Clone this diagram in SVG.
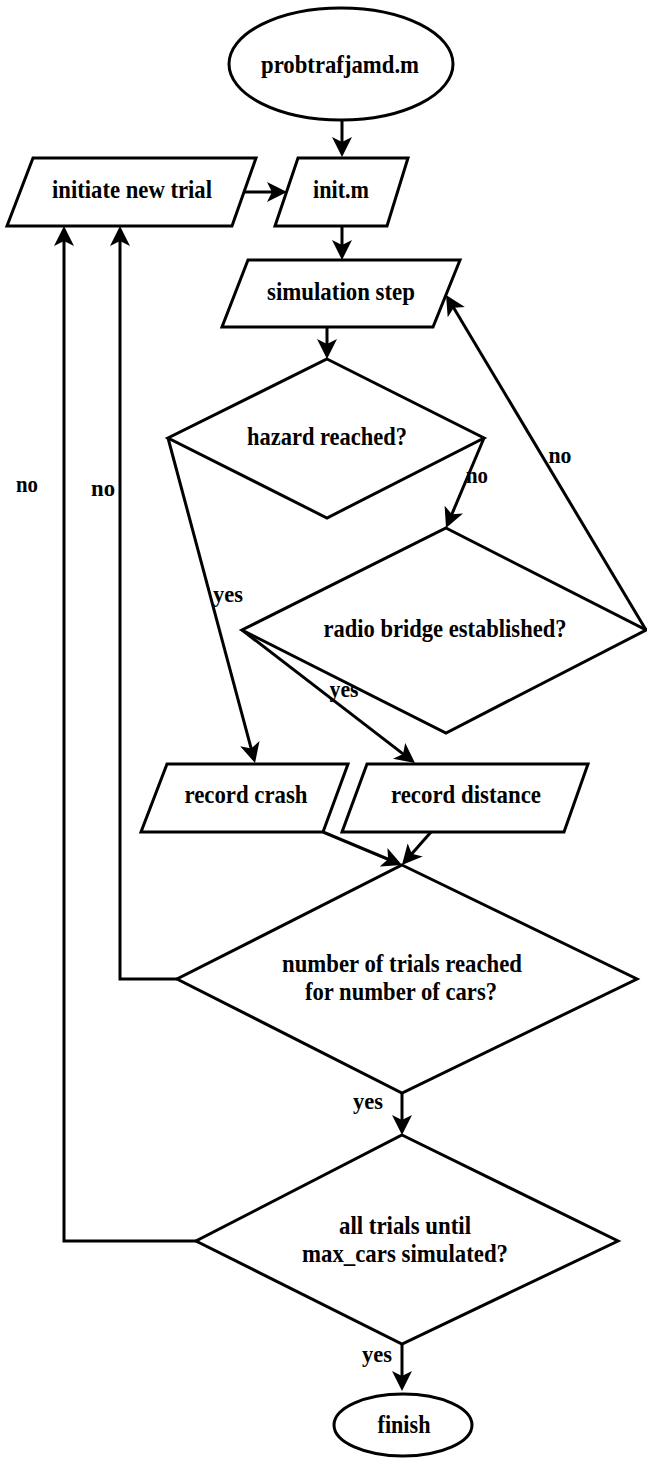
<svg xmlns="http://www.w3.org/2000/svg" width="647" height="1458" viewBox="0 0 647 1458">
  <style>
    .shape { fill: #ffffff; stroke: #000000; stroke-width: 3; stroke-linejoin: miter; }
    .edge { fill: none; stroke: #000000; stroke-width: 3; }
    .arrow { marker-end: url(#head); }
    text { font-family: "Liberation Serif", "Times New Roman", serif; font-weight: bold; fill: #000000; }
    .node-text { font-size: 25px; text-anchor: middle; }
    .label { font-size: 24px; text-anchor: middle; }
  </style>
  <defs>
    <marker id="head" viewBox="0 0 20 20" refX="16" refY="10" markerWidth="20" markerHeight="20" markerUnits="userSpaceOnUse" orient="auto">
      <path d="M0,0 L20,10 L0,20 L5,10 Z" fill="#000000"/>
    </marker>
  </defs>

  <rect x="0" y="0" width="647" height="1458" fill="#ffffff"/>

  <!-- connectors -->
  <g id="connectors">
    <line class="edge arrow" x1="342" y1="120" x2="342" y2="153"/>
    <line class="edge arrow" x1="245" y1="192" x2="283" y2="192"/>
    <line class="edge arrow" x1="342" y1="226" x2="342" y2="256"/>
    <line class="edge arrow" x1="327" y1="327" x2="327" y2="355"/>
    <line class="edge arrow" x1="484" y1="438" x2="447.6" y2="524.3"/>
    <line class="edge arrow" x1="646" y1="630" x2="448.1" y2="298.4"/>
    <line class="edge arrow" x1="168" y1="438" x2="254" y2="759.1"/>
    <line class="edge arrow" x1="242" y1="630" x2="411.8" y2="760.6"/>
    <line class="edge arrow" x1="323" y1="832" x2="398.3" y2="863.5"/>
    <line class="edge arrow" x1="431" y1="832" x2="404.6" y2="862"/>
    <polyline class="edge arrow" points="177,979 120,979 120,230"/>
    <line class="edge arrow" x1="402" y1="1093" x2="402" y2="1131"/>
    <polyline class="edge arrow" points="196,1241 64,1241 64,230"/>
    <line class="edge arrow" x1="402" y1="1344" x2="402" y2="1387"/>

    <text class="label" x="477" y="483" textLength="22" lengthAdjust="spacingAndGlyphs">no</text>
    <text class="label" x="560" y="463" textLength="23" lengthAdjust="spacingAndGlyphs">no</text>
    <text class="label" x="228" y="602" textLength="30" lengthAdjust="spacingAndGlyphs">yes</text>
    <text class="label" x="344" y="697" textLength="29" lengthAdjust="spacingAndGlyphs">yes</text>
    <text class="label" x="27" y="492" textLength="22" lengthAdjust="spacingAndGlyphs">no</text>
    <text class="label" x="103" y="496" textLength="24" lengthAdjust="spacingAndGlyphs">no</text>
    <text class="label" x="368" y="1109" textLength="30" lengthAdjust="spacingAndGlyphs">yes</text>
    <text class="label" x="377" y="1362" textLength="30" lengthAdjust="spacingAndGlyphs">yes</text>
  </g>

  <g id="start">
    <ellipse class="shape" cx="341" cy="64" rx="112" ry="56"/>
    <text class="node-text" x="340" y="73" textLength="158" lengthAdjust="spacingAndGlyphs">probtrafjamd.m</text>
  </g>

  <g id="initiate-new-trial">
    <polygon class="shape" points="33,158 256,158 232,226 7,226"/>
    <text class="node-text" x="132" y="198" textLength="160" lengthAdjust="spacingAndGlyphs">initiate new trial</text>
  </g>

  <g id="init-m">
    <polygon class="shape" points="298,158 408,158 387,226 275,226"/>
    <text class="node-text" x="341" y="198" textLength="56" lengthAdjust="spacingAndGlyphs">init.m</text>
  </g>

  <g id="simulation-step">
    <polygon class="shape" points="248,260 460,260 433,327 222,327"/>
    <text class="node-text" x="341" y="300" textLength="148" lengthAdjust="spacingAndGlyphs">simulation step</text>
  </g>

  <g id="hazard-reached">
    <polygon class="shape" points="327,359 484,438 327,518 168,438"/>
    <text class="node-text" x="327" y="445" textLength="160" lengthAdjust="spacingAndGlyphs">hazard reached?</text>
  </g>

  <g id="radio-bridge">
    <polygon class="shape" points="446,528 646,630 446,733 242,630"/>
    <text class="node-text" x="445" y="637" textLength="243" lengthAdjust="spacingAndGlyphs">radio bridge established?</text>
  </g>

  <g id="record-crash">
    <polygon class="shape" points="167,764 348,764 323,832 141,832"/>
    <text class="node-text" x="246" y="803" textLength="123" lengthAdjust="spacingAndGlyphs">record crash</text>
  </g>

  <g id="record-distance">
    <polygon class="shape" points="367,764 588,764 564,832 342,832"/>
    <text class="node-text" x="466" y="803" textLength="150" lengthAdjust="spacingAndGlyphs">record distance</text>
  </g>

  <g id="trials-reached">
    <polygon class="shape" points="402,865 637,979 402,1093 177,979"/>
    <text class="node-text" x="402" y="972" textLength="240" lengthAdjust="spacingAndGlyphs">number of trials reached</text>
    <text class="node-text" x="401" y="1000" textLength="192" lengthAdjust="spacingAndGlyphs">for number of cars?</text>
  </g>

  <g id="all-trials">
    <polygon class="shape" points="402,1135 618,1241 402,1344 196,1241"/>
    <text class="node-text" x="405" y="1234" textLength="132" lengthAdjust="spacingAndGlyphs">all trials until</text>
    <text class="node-text" x="405" y="1262" textLength="206" lengthAdjust="spacingAndGlyphs">max_cars simulated?</text>
  </g>

  <g id="finish">
    <ellipse class="shape" cx="403" cy="1425" rx="69" ry="31"/>
    <text class="node-text" x="404" y="1433" textLength="53" lengthAdjust="spacingAndGlyphs">finish</text>
  </g>
</svg>
